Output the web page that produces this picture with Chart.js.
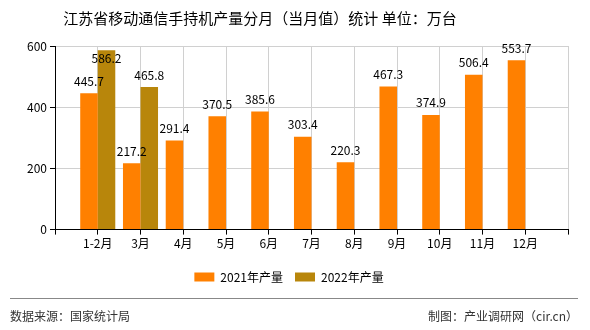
<!DOCTYPE html>
<html>
<head>
<meta charset="utf-8">
<script src="https://cdn.jsdelivr.net/npm/chart.js@4/dist/chart.umd.min.js"></script>
<style>
  html, body { margin: 0; padding: 0; background: #fff; }
  #wrap { width: 590px; height: 330px; position: relative; }
</style>
</head>
<body>
<div id="wrap"><canvas id="c"></canvas></div>
<script>
// data
const months = ['1-2月', '3月', '4月', '5月', '6月', '7月', '8月', '9月', '10月', '11月', '12月'];
const prod2021 = [445.7, 217.2, 291.4, 370.5, 385.6, 303.4, 220.3, 467.3, 374.9, 506.4, 553.7];
const prod2022 = [586.2, 465.8];
const yTicks = [0, 200, 400, 600];

const FONT = '"Noto Sans CJK SC", "DejaVu Sans", sans-serif';
const TITLE = '江苏省移动通信手持机产量分月（当月值）统计 单位：万台';

// blank slots at each end so the categories sit on the grid lines
const labels = ['', ...months, ''];
const pad = arr => [null, ...months.map((m, i) => (arr[i] === undefined ? null : arr[i])), null];

// value labels above the bars (dropped inside when they would leave the plot)
const valueLabels = {
  id: 'valueLabels',
  afterDatasetsDraw(chart) {
    const ctx = chart.ctx;
    const top = chart.chartArea.top;
    ctx.save();
    ctx.font = '12px ' + FONT;
    ctx.fillStyle = '#000';
    ctx.textAlign = 'center';
    ctx.textBaseline = 'middle';
    chart.data.datasets.forEach((ds, di) => {
      chart.getDatasetMeta(di).data.forEach((bar, i) => {
        const v = ds.data[i];
        if (v == null) return;
        let y = bar.y - 12;
        if (y < top - 2) y = bar.y + 8;
        ctx.fillText(v.toFixed(1), bar.x, y);
      });
    });
    ctx.restore();
  }
};

// title (sits left of centre in the original) + footer rule and source texts
const decor = {
  id: 'decor',
  afterDraw(chart) {
    const ctx = chart.ctx;
    ctx.save();
    ctx.font = '15px ' + FONT;
    ctx.fillStyle = '#000';
    ctx.textAlign = 'center';
    ctx.textBaseline = 'middle';
    ctx.fillText(TITLE, 260, 18);

    ctx.strokeStyle = '#888';
    ctx.lineWidth = 1;
    ctx.beginPath();
    ctx.moveTo(10, 298.5);
    ctx.lineTo(578, 298.5);
    ctx.stroke();
    ctx.font = '12px ' + FONT;
    ctx.fillStyle = '#333';
    ctx.textAlign = 'left';
    ctx.fillText('数据来源：国家统计局', 10, 316);
    ctx.textAlign = 'right';
    ctx.fillText('制图：产业调研网（cir.cn）', 578, 316);
    ctx.restore();
  }
};

new Chart(document.getElementById('c'), {
  type: 'bar',
  data: {
    labels: labels,
    datasets: [
      { label: '2021年产量', data: pad(prod2021), backgroundColor: '#ff8000' },
      { label: '2022年产量', data: pad(prod2022), backgroundColor: '#b8860b' }
    ]
  },
  options: {
    responsive: true,
    maintainAspectRatio: false,
    animation: false,
    layout: { padding: { left: 10, right: 22, top: 46, bottom: 37 } },
    datasets: { bar: { categoryPercentage: 0.82, barPercentage: 1 } },
    plugins: {
      title: { display: false },
      legend: {
        position: 'bottom',
        labels: {
          color: '#000',
          font: { family: FONT, size: 12 },
          boxWidth: 20,
          boxHeight: 9,
          padding: 12
        }
      },
      tooltip: { enabled: false }
    },
    scales: {
      x: {
        offset: false,
        afterFit: axis => { axis.height += 6; },
        grid: { color: '#d0d0d0', offset: false, tickColor: '#000', tickLength: 5 },
        border: { color: '#000', width: 1 },
        ticks: { color: '#000', font: { family: FONT, size: 12 }, maxRotation: 0, autoSkip: false, padding: 2 }
      },
      y: {
        min: yTicks[0],
        max: yTicks[yTicks.length - 1],
        afterBuildTicks: axis => { axis.ticks = yTicks.map(v => ({ value: v })); },
        afterFit: axis => { axis.width = 45; },
        grid: { color: '#d0d0d0', tickColor: '#000', tickLength: 5 },
        border: { color: '#000', width: 1 },
        ticks: { color: '#000', font: { family: FONT, size: 12 }, padding: 3 }
      }
    }
  },
  plugins: [valueLabels, decor]
});
</script>
</body>
</html>
